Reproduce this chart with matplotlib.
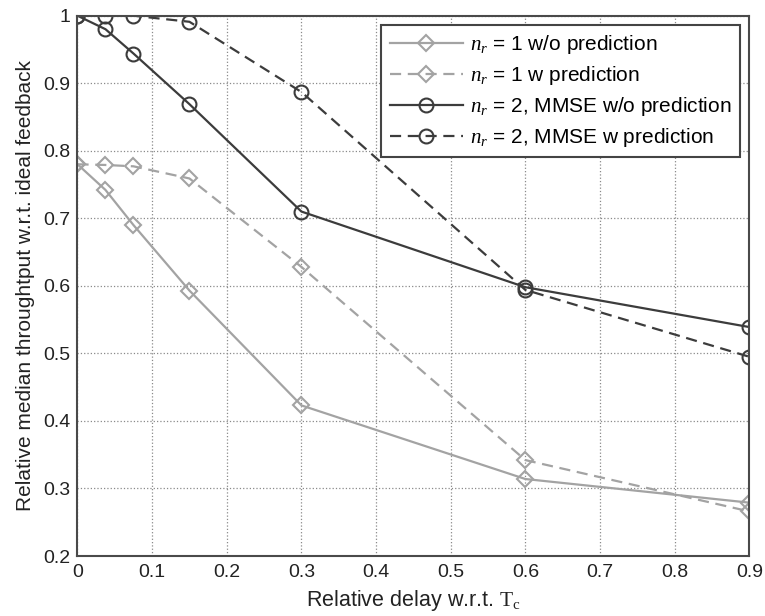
import matplotlib
matplotlib.use("Agg")
import matplotlib.pyplot as plt

# delay relative to coherence time
delay = [0, 0.0375, 0.075, 0.15, 0.3, 0.6, 0.9]

nr1_no_pred = [0.780, 0.742, 0.690, 0.593, 0.423, 0.314, 0.279]
nr1_pred = [0.780, 0.779, 0.777, 0.759, 0.628, 0.342, 0.266]
nr2_no_pred = [1.000, 0.980, 0.944, 0.869, 0.710, 0.598, 0.539]
nr2_pred = [1.000, 1.000, 1.000, 0.991, 0.887, 0.594, 0.495]

labels = [
    r"$n_r$ = 1 w/o prediction",
    r"$n_r$ = 1 w prediction",
    r"$n_r$ = 2, MMSE w/o prediction",
    r"$n_r$ = 2, MMSE w prediction",
]

x_ticks = [0, 0.1, 0.2, 0.3, 0.4, 0.5, 0.6, 0.7, 0.8, 0.9]
y_ticks = [0.2, 0.3, 0.4, 0.5, 0.6, 0.7, 0.8, 0.9, 1.0]

plt.rcParams['font.family'] = ['Liberation Sans', 'DejaVu Sans']
plt.rcParams['mathtext.fontset'] = 'custom'
plt.rcParams['mathtext.rm'] = 'Liberation Serif'
plt.rcParams['mathtext.it'] = 'Liberation Serif:italic'

light = '#a3a3a3'
dark = '#3c3c3c'

fig = plt.figure(figsize=(7.65, 6.16), dpi=100)
ax = fig.add_axes([0.1013, 0.0974, 0.8782, 0.8771])

ax.plot(delay, nr1_no_pred, '-', color=light, lw=1.6, marker='D', ms=8.5,
        mfc='none', mec=light, mew=1.5, label=labels[0])
ax.plot(delay, nr1_pred, '--', color=light, lw=1.6, marker='D', ms=8.5,
        mfc='none', mec=light, mew=1.5, dashes=(5, 3), label=labels[1])
ax.plot(delay, nr2_no_pred, '-', color=dark, lw=1.6, marker='o', ms=10,
        mfc='none', mec=dark, mew=1.5, label=labels[2])
ax.plot(delay, nr2_pred, '--', color=dark, lw=1.6, marker='o', ms=10,
        mfc='none', mec=dark, mew=1.5, dashes=(5, 3), label=labels[3])

ax.set_xlim(0, 0.9)
ax.set_ylim(0.2, 1.0)
ax.set_xticks(x_ticks)
ax.set_yticks(y_ticks)
ax.set_xticklabels(["%g" % v for v in x_ticks])
ax.set_yticklabels(["%g" % v for v in y_ticks])
ax.tick_params(length=0, labelsize=14, colors='#222222')
ax.tick_params(axis='x', pad=6)
ax.tick_params(axis='y', pad=5)
ax.grid(True, linestyle=':', color='#8a8a8a', lw=0.9)
for s in ax.spines.values():
    s.set_color('#4a4a4a')
    s.set_linewidth(1.5)

ax.set_xlabel(r"Relative delay w.r.t. $\mathrm{T_c}$", fontsize=15.5,
              color='#222222', labelpad=5)
ax.set_ylabel("Relative median throughtput w.r.t. ideal feedback", fontsize=15,
              color='#222222', labelpad=6)

leg = ax.legend(loc='upper right', fontsize=15, handlelength=3.5,
                handletextpad=0.35, fancybox=False, framealpha=1,
                edgecolor='#444444', borderaxespad=0.45, labelspacing=0.38)
leg.get_frame().set_linewidth(1.5)

fig.savefig('out.png', dpi=100)
plt.close(fig)
